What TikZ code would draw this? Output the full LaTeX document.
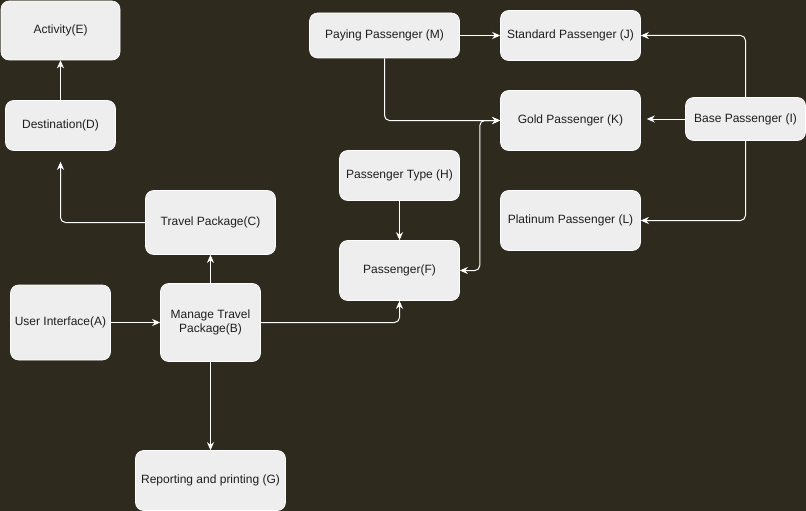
\documentclass[tikz,border=0pt]{standalone}
\usepackage{fontspec}
\setmainfont{Liberation Sans}
\usetikzlibrary{arrows.meta}
\definecolor{bgc}{HTML}{2E2A1E}
\definecolor{boxc}{HTML}{EEEEEE}
\definecolor{txtc}{HTML}{1E1E1E}
\begin{document}
\begin{tikzpicture}[x=1pt,y=-1pt,
  box/.style={draw=white, line width=0.6pt, fill=boxc, rounded corners=8pt, text=txtc,
    font=\fontsize{12}{14}\selectfont, align=center, inner sep=2pt},
  arr/.style={draw=white, line width=1pt, rounded corners=5pt,
    -{Stealth[length=8pt,width=7pt,inset=2.5pt]}},
  barr/.style={draw=white, line width=1pt, rounded corners=5pt,
    {Stealth[length=8pt,width=7pt,inset=2.5pt]}-{Stealth[length=8pt,width=7pt,inset=2.5pt]}}]
\fill[bgc] (0,0) rectangle (806,511);
\useasboundingbox (0,0) rectangle (806,511);

\node[box, minimum width=119pt, minimum height=59pt] (E) at (60.5,30.5) {Activity(E)};
\node[box, minimum width=110pt, minimum height=50pt] (D) at (60.5,125.5) {Destination(D)};
\node[box, minimum width=130pt, minimum height=64pt] (C) at (210.5,222.5) {Travel Package(C)};
\node[box, minimum width=100pt, minimum height=75pt] (A) at (60.5,322.5) {User Interface(A)};
\node[box, minimum width=100pt, minimum height=78pt] (B) at (210.5,322.5) {Manage Travel\\Package(B)};
\node[box, minimum width=150pt, minimum height=60pt] (G) at (210.5,480.5) {Reporting and printing (G)};
\node[box, minimum width=120pt, minimum height=60pt] (F) at (399.5,270.5) {Passenger(F)};
\node[box, minimum width=120pt, minimum height=50pt] (H) at (399.5,175.5) {Passenger Type (H)};
\node[box, minimum width=150pt, minimum height=45pt] (M) at (384.5,35.5) {Paying Passenger (M)};
\node[box, minimum width=140pt, minimum height=50pt] (J) at (570.5,35.5) {Standard Passenger (J)};
\node[box, minimum width=140pt, minimum height=60pt] (K) at (570.5,120.5) {Gold Passenger (K)};
\node[box, minimum width=140pt, minimum height=60pt] (L) at (570.5,220.5) {Platinum Passenger (L)};
\node[box, minimum width=120pt, minimum height=43pt] (I) at (745.5,119) {Base Passenger (I)};

\draw[arr] (D) -- (E);
\draw[arr, shorten >=11pt] (C.west) -| (D.south);
\draw[arr] (A) -- (B);
\draw[arr] (B) -- (C);
\draw[arr] (B) -- (G);
\draw[arr] (B.east) -| (F.south);
\draw[arr] (H) -- (F);
\draw[arr] (M) -- (J);
\draw[arr] (M.south) |- (K.west);
\draw[barr] (F.east) -- ++(20,0) |- (K.west);
\draw[arr] (I.north) |- (J.east);
\draw[arr, shorten >=6pt] (I.west) -- (K.east |- I.west);
\draw[arr] (I.south) |- (L.east);
\end{tikzpicture}
\end{document}
